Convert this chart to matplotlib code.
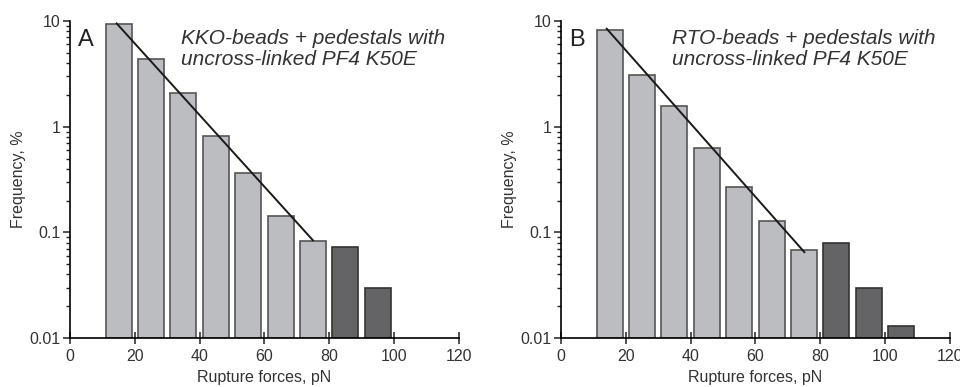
import numpy as np
import matplotlib.pyplot as plt

plt.rcParams['font.family'] = ['Liberation Sans', 'DejaVu Sans']

# bin centres (pN) and frequencies (%)
centers_a = [15, 25, 35, 45, 55, 65, 75, 85, 95]
freq_a = [9.3, 4.4, 2.08, 0.82, 0.366, 0.142, 0.082, 0.072, 0.0296]
n_fit_a = 7  # bars used for the fit (light)
fit_x_a = [14.4, 75.0]
fit_y_a = [9.5, 0.084]
title_a = "KKO-beads + pedestals with\nuncross-linked PF4 K50E"

centers_b = [15, 25, 35, 45, 55, 65, 75, 85, 95, 105]
freq_b = [8.28, 3.07, 1.57, 0.627, 0.268, 0.127, 0.068, 0.079, 0.0298, 0.0131]
n_fit_b = 7
fit_x_b = [14.1, 75.1]
fit_y_b = [8.46, 0.065]
title_b = "RTO-beads + pedestals with\nuncross-linked PF4 K50E"

light = '#bcbdc1'
dark = '#646466'
base = 0.01

fig = plt.figure(figsize=(9.6, 3.87), dpi=100)
ax_a = fig.add_axes([0.0729, 0.1266, 0.405, 0.819])
ax_b = fig.add_axes([0.5844, 0.1266, 0.405, 0.819])


def draw_panel(ax, centers, freq, n_fit, fx, fy, letter, title):
    colors = [light] * n_fit + [dark] * (len(freq) - n_fit)
    edges = ['#555555'] * n_fit + ['#333333'] * (len(freq) - n_fit)
    heights = np.array(freq) - base
    ax.bar(centers, heights, width=8, bottom=base, color=colors,
           edgecolor=edges, linewidth=1.2, zorder=2)
    ax.plot(fx, fy, color='#1a1a1a', lw=1.4, zorder=3)
    ax.set_yscale('log')
    ax.set_ylim(0.01, 10)
    ax.set_xlim(0, 120)
    ax.set_xticks([0, 20, 40, 60, 80, 100, 120])
    ax.set_yticks([0.01, 0.1, 1, 10])
    ax.set_yticklabels(['0.01', '0.1', '1', '10'])
    ax.spines['top'].set_visible(False)
    ax.spines['right'].set_visible(False)
    ax.spines['left'].set_linewidth(1.2)
    ax.spines['bottom'].set_linewidth(1.2)
    ax.tick_params(axis='both', which='major', labelsize=11.5, length=5,
                   width=1.1, color='#222222', labelcolor='#333333', pad=2)
    ax.tick_params(axis='y', which='minor', length=3, width=1, color='#222222')
    ax.tick_params(axis='x', which='major', direction='inout', length=8, pad=4)
    ax.set_xlabel('Rupture forces, pN', fontsize=11.5, color='#333333', labelpad=4)
    ax.set_ylabel('Frequency, %', fontsize=11.5, color='#333333', labelpad=2)
    ax.text(0.02, 0.975, letter, transform=ax.transAxes, fontsize=17,
            va='top', ha='left', color='#222222')
    ax.text(0.285, 0.975, title, transform=ax.transAxes, fontsize=15,
            style='italic', va='top', ha='left', color='#333333',
            linespacing=1.15)


draw_panel(ax_a, centers_a, freq_a, n_fit_a, fit_x_a, fit_y_a, 'A', title_a)
draw_panel(ax_b, centers_b, freq_b, n_fit_b, fit_x_b, fit_y_b, 'B', title_b)

fig.savefig('out.png', dpi=100)
